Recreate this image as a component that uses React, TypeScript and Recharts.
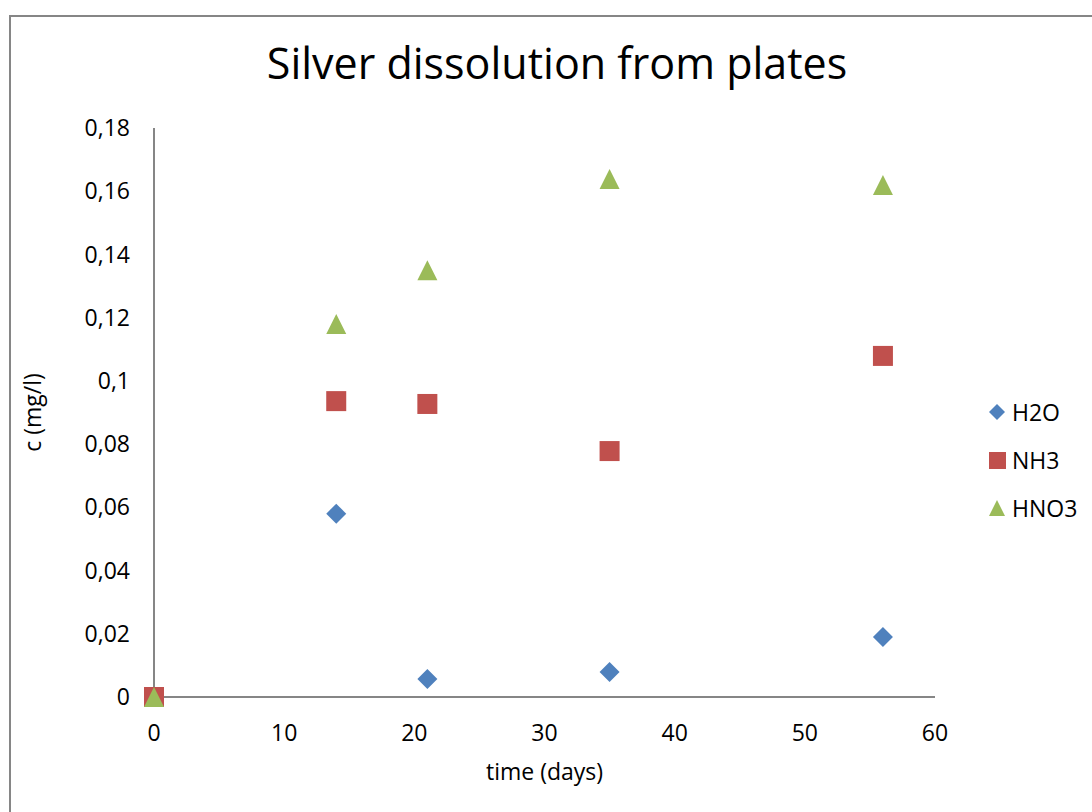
import React from "react";
import {
  ScatterChart,
  Scatter,
  XAxis,
  YAxis,
  Label,
} from "recharts";

const h2o = [
  { x: 0, y: 0 },
  { x: 14, y: 0.058 },
  { x: 21, y: 0.0057 },
  { x: 35, y: 0.0079 },
  { x: 56, y: 0.019 },
];
const nh3 = [
  { x: 0, y: 0 },
  { x: 14, y: 0.0936 },
  { x: 21, y: 0.0927 },
  { x: 35, y: 0.0778 },
  { x: 56, y: 0.1079 },
];
const hno3 = [
  { x: 0, y: 0 },
  { x: 14, y: 0.118 },
  { x: 21, y: 0.135 },
  { x: 35, y: 0.1639 },
  { x: 56, y: 0.162 },
];

const xTicks = [0, 10, 20, 30, 40, 50, 60];
const yTicks = [0, 0.02, 0.04, 0.06, 0.08, 0.1, 0.12, 0.14, 0.16, 0.18];

const BLUE = "#4F81BD";
const RED = "#C0504D";
const GREEN = "#9BBB59";
const AXIS = "#868686";
const FONT = "'Open Sans', sans-serif";

const fmtY = (v: number) => String(+v.toFixed(2)).replace(".", ",");

function Diamond(props: any) {
  const { cx, cy } = props;
  const r = 10;
  return (
    <path
      d={`M${cx},${cy - r}L${cx + r},${cy}L${cx},${cy + r}L${cx - r},${cy}Z`}
      fill={BLUE}
    />
  );
}

function Square(props: any) {
  const { cx, cy } = props;
  return <rect x={cx - 10} y={cy - 10} width={20} height={20} fill={RED} />;
}

function Triangle(props: any) {
  const { cx, cy } = props;
  return (
    <path
      d={`M${cx},${cy - 10}L${cx + 10},${cy + 10}L${cx - 10},${cy + 10}Z`}
      fill={GREEN}
    />
  );
}

const legendItems = [
  { name: "H2O", icon: "d", color: BLUE },
  { name: "NH3", icon: "s", color: RED },
  { name: "HNO3", icon: "t", color: GREEN },
];

export default function App() {
  return (
    <div
      style={{
        position: "absolute",
        left: 0,
        top: 0,
        width: 1092,
        height: 812,
        overflow: "hidden",
        background: "#fff",
        fontFamily: FONT,
      }}
    >
      <div
        style={{
          position: "absolute",
          left: 9,
          top: 15,
          width: 1200,
          height: 900,
          border: "2px solid #868686",
        }}
      />
      <div
        style={{
          position: "absolute",
          left: 0,
          top: 33,
          width: 1114,
          textAlign: "center",
          fontSize: 43,
          color: "#000",
        }}
      >
        Silver dissolution from plates
      </div>
      <div style={{ position: "absolute", left: 0, top: 0 }}>
        <ScatterChart
          width={1092}
          height={812}
          margin={{ top: 128, right: 157, bottom: 85, left: 84 }}
        >
          <XAxis
            type="number"
            dataKey="x"
            domain={[0, 60]}
            ticks={xTicks}
            tickLine={false}
            tickMargin={22}
            axisLine={{ stroke: AXIS, strokeWidth: 2 }}
            tick={{ fill: "#000", fontSize: 23, fontFamily: FONT }}
          >
            <Label
              value="time (days)"
              position="insideBottom"
              offset={-53}
              style={{ fill: "#000", fontSize: 23, fontFamily: FONT }}
            />
          </XAxis>
          <YAxis
            type="number"
            dataKey="y"
            width={70}
            domain={[0, 0.18]}
            ticks={yTicks}
            tickFormatter={fmtY}
            tickLine={false}
            tickMargin={18}
            axisLine={{ stroke: AXIS, strokeWidth: 2 }}
            tick={{ fill: "#000", fontSize: 23, fontFamily: FONT }}
          >
            <Label
              value="c (mg/l)"
              angle={-90}
              position="insideLeft"
              offset={-51}
              style={{
                fill: "#000",
                fontSize: 23,
                fontFamily: FONT,
                textAnchor: "middle",
              }}
            />
          </YAxis>
          <Scatter
            name="H2O"
            data={h2o}
            shape={Diamond}
            isAnimationActive={false}
          />
          <Scatter
            name="NH3"
            data={nh3}
            shape={Square}
            isAnimationActive={false}
          />
          <Scatter
            name="HNO3"
            data={hno3}
            shape={Triangle}
            isAnimationActive={false}
          />
        </ScatterChart>
      </div>
      {legendItems.map((it, i) => (
        <div
          key={it.name}
          style={{
            position: "absolute",
            left: 986,
            top: 397 + i * 48,
            height: 30,
            display: "flex",
            alignItems: "center",
            fontSize: 23,
            color: "#000",
          }}
        >
          <svg width={22} height={22} style={{ marginRight: 4 }}>
            {it.icon === "d" && (
              <path d="M11,3L19,11L11,19L3,11Z" fill={it.color} />
            )}
            {it.icon === "s" && (
              <rect x={3} y={3} width={17} height={17} fill={it.color} />
            )}
            {it.icon === "t" && (
              <path d="M11,3L19,19L3,19Z" fill={it.color} />
            )}
          </svg>
          {it.name}
        </div>
      ))}
    </div>
  );
}
